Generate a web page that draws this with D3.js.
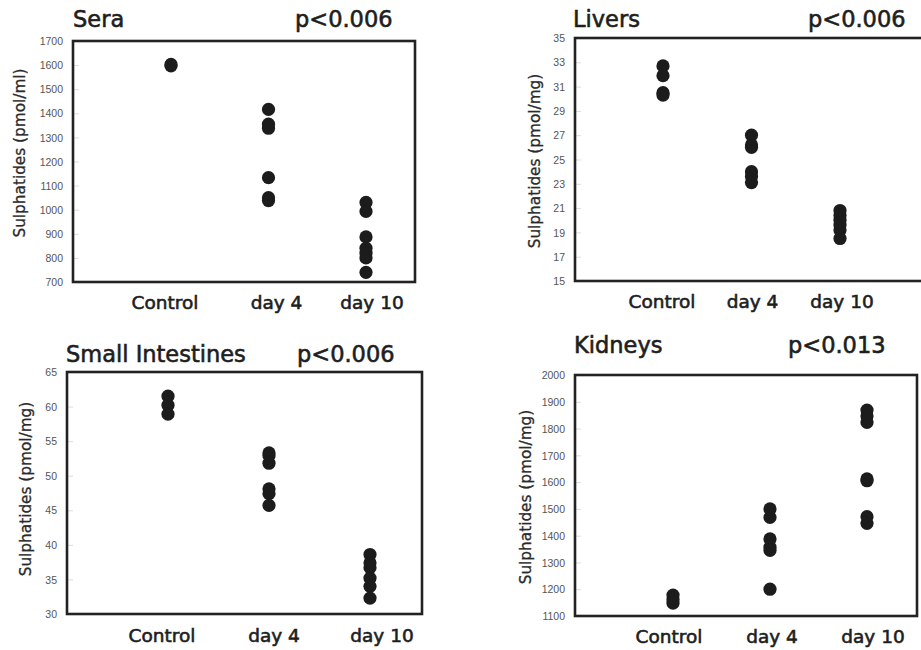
<!DOCTYPE html>
<html>
<head>
<meta charset="utf-8">
<script src="https://cdn.jsdelivr.net/npm/d3@7"></script>
<style>
  body { margin: 0; background: #fff; }
  svg { display: block; }
  .tick-lbl { font-family: "Liberation Sans", Arial, sans-serif; font-size: 10.5px; fill: #555; }
  .ttl { font-family: "DejaVu Sans", sans-serif; font-size: 22.5px; fill: #1e1e1e; stroke: #1e1e1e; stroke-width: 0.6px; }
  .xlbl { font-family: "DejaVu Sans", sans-serif; font-size: 18.5px; fill: #1e1e1e; stroke: #1e1e1e; stroke-width: 0.6px; }
  .ylbl { font-family: "DejaVu Sans", sans-serif; font-size: 15.3px; fill: #2a2a2a; stroke: #2a2a2a; stroke-width: 0.3px; }
</style>
</head>
<body>
<script>
// groups on the x axis
var categories = ['Control', 'day 4', 'day 10'];

// values
var seraControl = [1597, 1603];
var seraDay4 = [1416, 1355, 1338, 1133, 1050, 1038];
var seraDay10 = [1030, 993, 887, 840, 820, 800, 740];
var seraTicks = [700, 800, 900, 1000, 1100, 1200, 1300, 1400, 1500, 1600, 1700];

var liverControl = [32.7, 31.9, 30.5, 30.3];
var liverDay4 = [27.0, 26.2, 26.0, 24.0, 23.6, 23.1];
var liverDay10 = [20.8, 20.4, 20.0, 19.6, 19.2, 18.5];
var liverTicks = [15, 17, 19, 21, 23, 25, 27, 29, 31, 33, 35];

var intestineControl = [61.5, 60.2, 58.9];
var intestineDay4 = [53.3, 52.9, 51.8, 48.1, 47.4, 45.7];
var intestineDay10 = [38.6, 37.4, 36.7, 35.2, 34.0, 32.3];
var intestineTicks = [30, 35, 40, 45, 50, 55, 60, 65];

var kidneyControl = [1178, 1162, 1148];
var kidneyDay4 = [1500, 1468, 1388, 1357, 1345, 1200];
var kidneyDay10 = [1869, 1847, 1823, 1612, 1605, 1471, 1446];
var kidneyTicks = [1100, 1200, 1300, 1400, 1500, 1600, 1700, 1800, 1900, 2000];

var titles = ['Sera', 'Livers', 'Small Intestines', 'Kidneys'];
var pValues = ['p<0.006', 'p<0.006', 'p<0.006', 'p<0.013'];
var yLabels = ['Sulphatides (pmol/ml)', 'Sulphatides (pmol/mg)', 'Sulphatides (pmol/mg)', 'Sulphatides (pmol/mg)'];

var svg = d3.select('body').append('svg').attr('width', 921).attr('height', 650);

/**
 * Draw one dot-plot panel.
 * @param {object} p  panel layout and data
 */
function drawPanel(p) {
    var g = svg.append('g');

    var y = d3.scaleLinear()
        .domain(d3.extent(p.ticks))
        .range([p.bottom, p.top]);

    var x = d3.scalePoint()
        .domain(categories)
        .range(p.dotRange);

    // faint inner ticks + labels
    var axis = d3.axisLeft(y).tickValues(p.ticks).tickFormat(d3.format('d')).tickSize(0).tickPadding(10);
    var ax = g.append('g').attr('transform', 'translate(' + p.left + ',0)').call(axis);
    ax.select('.domain').remove();
    ax.selectAll('text').attr('class', 'tick-lbl').attr('fill', null).attr('dy', '0.35em');
    ax.selectAll('.tick').append('line')
        .attr('x1', 1).attr('x2', 6)
        .attr('stroke', '#ddd').attr('stroke-width', 1);

    // frame
    g.append('rect')
        .attr('x', p.left).attr('y', p.top)
        .attr('width', p.right - p.left).attr('height', p.bottom - p.top)
        .attr('fill', 'none').attr('stroke', '#222').attr('stroke-width', 2.6);

    // dots
    p.groups.forEach(function(vals, i) {
        g.selectAll(null)
            .data(vals)
            .enter()
            .append('circle')
            .attr('cx', x(categories[i]))
            .attr('cy', function(d) { return y(d); })
            .attr('r', 6.6)
            .attr('fill', '#1c1c1c');
    });

    // x labels
    g.selectAll(null)
        .data(categories)
        .enter()
        .append('text')
        .attr('class', 'xlbl')
        .attr('text-anchor', 'middle')
        .attr('x', function(d, i) { return x(d) + p.labelShift[i]; })
        .attr('y', p.xLabelY)
        .text(function(d) { return d; });

    // titles
    g.append('text').attr('class', 'ttl').attr('x', p.titleX).attr('y', p.titleY).text(p.title);
    g.append('text').attr('class', 'ttl').attr('x', p.pX).attr('y', p.titleY).text(p.p);

    // y label
    g.append('text')
        .attr('class', 'ylbl')
        .attr('text-anchor', 'middle')
        .attr('transform', 'translate(' + p.yLabelX + ',' + p.yLabelY + ') rotate(-90)')
        .text(p.yLabel);
}

var panels = [
    { left: 73, right: 415, top: 41, bottom: 282, dotRange: [171, 366], labelShift: [-6, 8, 6],
      ticks: seraTicks, groups: [seraControl, seraDay4, seraDay10], xLabelY: 309,
      title: titles[0], p: pValues[0], titleX: 73, pX: 295, titleY: 27,
      yLabel: yLabels[0], yLabelX: 25, yLabelY: 153 },
    { left: 575, right: 926, top: 38, bottom: 281, dotRange: [663, 840], labelShift: [-1, 1, 2],
      ticks: liverTicks, groups: [liverControl, liverDay4, liverDay10], xLabelY: 308,
      title: titles[1], p: pValues[1], titleX: 573, pX: 808, titleY: 27,
      yLabel: yLabels[1], yLabelX: 540, yLabelY: 161 },
    { left: 67, right: 422, top: 372, bottom: 614, dotRange: [168, 370], labelShift: [-6, 5, 12],
      ticks: intestineTicks, groups: [intestineControl, intestineDay4, intestineDay10], xLabelY: 642,
      title: titles[2], p: pValues[2], titleX: 66, pX: 297, titleY: 362,
      yLabel: yLabels[2], yLabelX: 31, yLabelY: 489 },
    { left: 575, right: 917, top: 375, bottom: 616, dotRange: [673, 867], labelShift: [-4, 2, 6],
      ticks: kidneyTicks, groups: [kidneyControl, kidneyDay4, kidneyDay10], xLabelY: 643,
      title: titles[3], p: pValues[3], titleX: 574, pX: 788, titleY: 353,
      yLabel: yLabels[3], yLabelX: 531, yLabelY: 497 }
];

panels.forEach(drawPanel);
</script>
</body>
</html>
